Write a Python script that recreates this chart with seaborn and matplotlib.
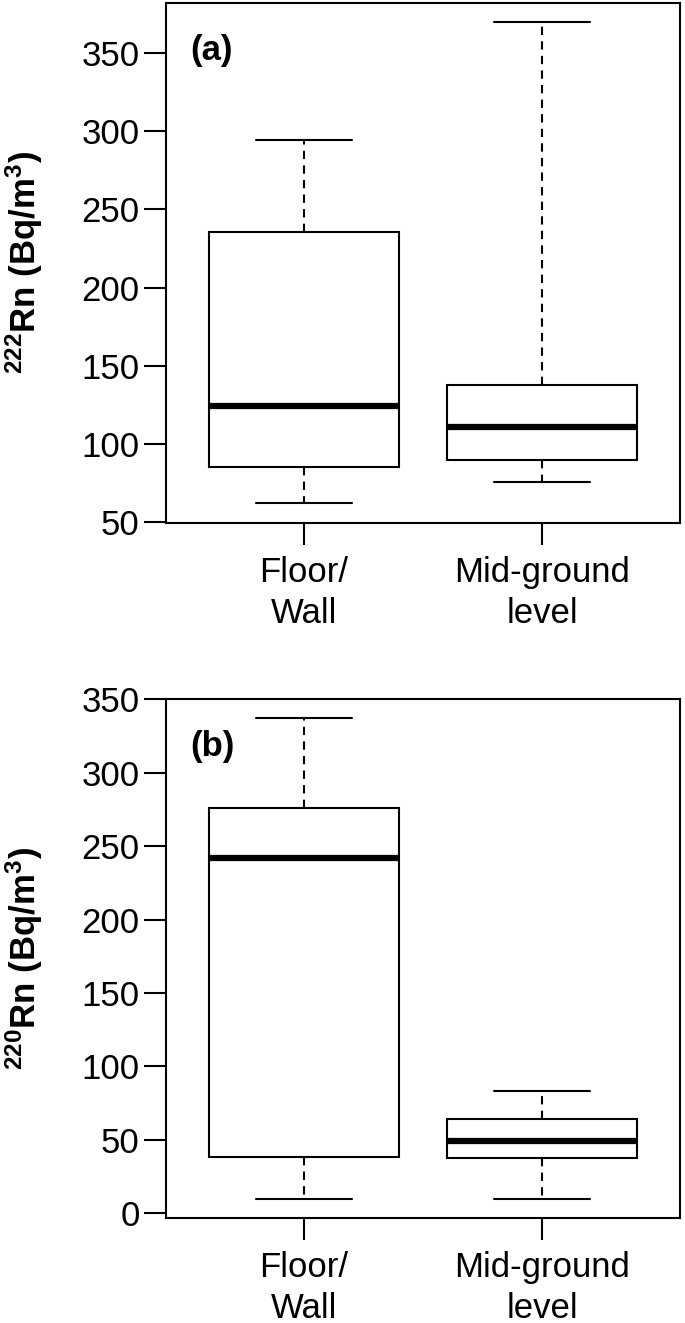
import numpy as np
import pandas as pd
import matplotlib.pyplot as plt
import seaborn as sns

sns.set_style("ticks")
plt.rcParams['font.family'] = ['Liberation Sans', 'DejaVu Sans']
plt.rcParams['mathtext.fontset'] = 'custom'
plt.rcParams['mathtext.rm'] = 'Liberation Sans'
plt.rcParams['text.color'] = 'black'
plt.rcParams['axes.labelcolor'] = 'black'
plt.rcParams['xtick.color'] = 'black'
plt.rcParams['ytick.color'] = 'black'

categories = ["Floor/\nWall", "Mid-ground\nlevel"]
# five-number summaries: min, Q1, median, Q3, max
rn222_floor = [62, 85, 124.5, 235.5, 294.5]
rn222_mid = [75.5, 89.5, 111, 137.5, 369.5]
rn220_floor = [10, 38.5, 242, 276, 337]
rn220_mid = [10, 37.5, 49, 64.5, 83]

yticks_a = [50, 100, 150, 200, 250, 300, 350]
yticks_b = [0, 50, 100, 150, 200, 250, 300, 350]

fig = plt.figure(figsize=(6.85, 13.23), dpi=100)
ax1 = fig.add_axes([0.2423, 0.6049, 0.7504, 0.3928])
ax2 = fig.add_axes([0.2423, 0.0794, 0.7504, 0.3923])


def draw(ax, floor, mid, yticks, ylab, tag):
    df = pd.DataFrame({
        "where": [categories[0]] * len(floor) + [categories[1]] * len(mid),
        "rn": floor + mid,
    })
    sns.boxplot(data=df, x="where", y="rn", ax=ax, color="white", saturation=1,
                linecolor="black", linewidth=1.5, width=0.8, whis=(0, 100),
                showfliers=False,
                medianprops={"linewidth": 4.5, "color": "black"},
                whiskerprops={"linestyle": (0, (4, 3))})
    vals = floor + mid
    lo, hi = min(vals), max(vals)
    pad = 0.04 * (hi - lo)
    ax.set_ylim(lo - pad, hi + pad)
    ax.set_xlim(-0.58, 1.58)
    ax.set_yticks(yticks)
    ax.set_xlabel("")
    ax.set_ylabel(ylab, fontsize=25, fontweight="bold")
    ax.yaxis.set_label_coords(-0.236, 0.5)
    ax.tick_params(axis="both", length=16, width=1.5, labelsize=25, color="black")
    ax.tick_params(axis="y", pad=3)
    ax.tick_params(axis="x", pad=8)
    for lab in ax.get_xticklabels():
        lab.set_linespacing(1.3)
    for sp in ax.spines.values():
        sp.set_visible(True)
        sp.set_linewidth(1.5)
        sp.set_color("black")
    ax.text(0.047, 0.908, tag, transform=ax.transAxes, fontsize=25,
            fontweight="bold", va="center", ha="left")


draw(ax1, rn222_floor, rn222_mid, yticks_a,
     r"$\mathregular{^{222}}$Rn (Bq/m$\mathregular{^{3}}$)", "(a)")
draw(ax2, rn220_floor, rn220_mid, yticks_b,
     r"$\mathregular{^{220}}$Rn (Bq/m$\mathregular{^{3}}$)", "(b)")

plt.savefig("out.png", dpi=100)
